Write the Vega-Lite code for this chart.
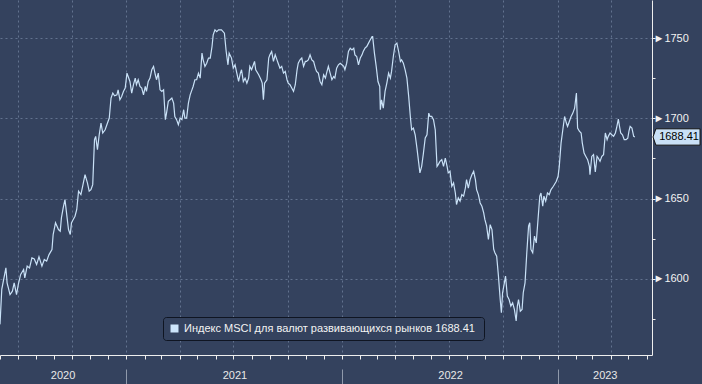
{
  "$schema": "https://vega.github.io/schema/vega-lite/v6.json",
  "width": 652,
  "height": 355,
  "autosize": {"type": "none"},
  "padding": {"left": 0, "top": 0, "right": 50, "bottom": 29},
  "background": "#34425e",
  "config": {
    "view": {"stroke": null, "fill": "#34425e"},
    "font": "Liberation Sans"
  },
  "datasets": {
    "series": [
      {"d":"2020-06-01","v":1571.6},{"d":"2020-06-04","v":1593.4},{"d":"2020-06-11","v":1606.8},{"d":"2020-06-13","v":1597.5},{"d":"2020-06-18","v":1590.2},{"d":"2020-06-22","v":1592.3},{"d":"2020-06-25","v":1597.5},{"d":"2020-06-29","v":1590.2},
      {"d":"2020-07-02","v":1596.5},{"d":"2020-07-06","v":1602.7},{"d":"2020-07-11","v":1605.8},{"d":"2020-07-13","v":1600.6},{"d":"2020-07-17","v":1607.9},{"d":"2020-07-21","v":1606.8},{"d":"2020-07-25","v":1613.1},{"d":"2020-07-29","v":1612.4},
      {"d":"2020-08-02","v":1608.9},{"d":"2020-08-06","v":1613.7},{"d":"2020-08-11","v":1607.9},{"d":"2020-08-15","v":1612},{"d":"2020-08-19","v":1611},{"d":"2020-08-23","v":1615.1},{"d":"2020-08-28","v":1618.3},{"d":"2020-08-30","v":1627.6},
      {"d":"2020-09-03","v":1634.9},{"d":"2020-09-08","v":1630.7},{"d":"2020-09-11","v":1629.7},{"d":"2020-09-13","v":1638},{"d":"2020-09-16","v":1644.2},{"d":"2020-09-19","v":1649.4},{"d":"2020-09-22","v":1640},{"d":"2020-09-25","v":1630.7},{"d":"2020-09-28","v":1627.6},{"d":"2020-09-30","v":1634.9},
      {"d":"2020-10-06","v":1639},{"d":"2020-10-09","v":1643.2},{"d":"2020-10-12","v":1654.6},{"d":"2020-10-16","v":1652.5},{"d":"2020-10-19","v":1657.7},{"d":"2020-10-23","v":1664.9},{"d":"2020-10-27","v":1659.8},{"d":"2020-10-30","v":1654.6},
      {"d":"2020-11-02","v":1655.6},{"d":"2020-11-05","v":1658.7},{"d":"2020-11-08","v":1686.7},{"d":"2020-11-10","v":1688.8},{"d":"2020-11-13","v":1680.5},{"d":"2020-11-16","v":1689.8},{"d":"2020-11-19","v":1697.1},{"d":"2020-11-22","v":1690.9},{"d":"2020-11-26","v":1692.9},{"d":"2020-11-30","v":1697.1},
      {"d":"2020-12-03","v":1700.2},{"d":"2020-12-06","v":1712.7},{"d":"2020-12-09","v":1715.8},{"d":"2020-12-12","v":1714.1},{"d":"2020-12-16","v":1714.7},{"d":"2020-12-18","v":1717.8},{"d":"2020-12-21","v":1711.6},{"d":"2020-12-24","v":1713.7},{"d":"2020-12-27","v":1716.8},{"d":"2020-12-30","v":1718.9},
      {"d":"2021-01-02","v":1728.2},{"d":"2021-01-04","v":1726.1},{"d":"2021-01-07","v":1723},{"d":"2021-01-10","v":1715.8},{"d":"2021-01-13","v":1721},{"d":"2021-01-16","v":1725.1},{"d":"2021-01-18","v":1721},{"d":"2021-01-21","v":1724.1},{"d":"2021-01-24","v":1719.9},{"d":"2021-01-27","v":1718.9},{"d":"2021-01-30","v":1714.7},
      {"d":"2021-02-02","v":1719.9},{"d":"2021-02-04","v":1716.8},{"d":"2021-02-07","v":1723},{"d":"2021-02-10","v":1725.1},{"d":"2021-02-13","v":1730.3},{"d":"2021-02-16","v":1732.4},{"d":"2021-02-19","v":1727.2},{"d":"2021-02-21","v":1724.1},{"d":"2021-02-24","v":1728.2},{"d":"2021-02-27","v":1717.8},
      {"d":"2021-03-02","v":1716.8},{"d":"2021-03-05","v":1717.8},{"d":"2021-03-08","v":1699.2},{"d":"2021-03-10","v":1703.3},{"d":"2021-03-13","v":1710.6},{"d":"2021-03-16","v":1711.6},{"d":"2021-03-19","v":1712.7},{"d":"2021-03-22","v":1709.5},{"d":"2021-03-24","v":1701.2},{"d":"2021-03-27","v":1699.2},{"d":"2021-03-30","v":1696.1},
      {"d":"2021-04-02","v":1700.2},{"d":"2021-04-05","v":1699.2},{"d":"2021-04-08","v":1705.4},{"d":"2021-04-10","v":1700.2},{"d":"2021-04-13","v":1700.2},{"d":"2021-04-16","v":1709.5},{"d":"2021-04-19","v":1714.7},{"d":"2021-04-22","v":1717.8},{"d":"2021-04-24","v":1719.9},{"d":"2021-04-27","v":1724.1},{"d":"2021-04-30","v":1724.1},
      {"d":"2021-05-03","v":1728.2},{"d":"2021-05-06","v":1725.1},{"d":"2021-05-09","v":1740.7},{"d":"2021-05-11","v":1736.5},{"d":"2021-05-14","v":1732.4},{"d":"2021-05-17","v":1734.4},{"d":"2021-05-20","v":1737.6},{"d":"2021-05-23","v":1737.6},{"d":"2021-05-26","v":1744.8},{"d":"2021-05-28","v":1752.1},{"d":"2021-05-31","v":1755.2},
      {"d":"2021-06-03","v":1754.1},{"d":"2021-06-06","v":1755.2},{"d":"2021-06-11","v":1755.2},{"d":"2021-06-16","v":1753.1},{"d":"2021-06-19","v":1741.7},{"d":"2021-06-22","v":1733.4},{"d":"2021-06-24","v":1740.7},{"d":"2021-06-28","v":1737.6},
      {"d":"2021-07-01","v":1731.3},{"d":"2021-07-04","v":1733.4},{"d":"2021-07-07","v":1728.2},{"d":"2021-07-10","v":1723},{"d":"2021-07-13","v":1728.2},{"d":"2021-07-15","v":1730.3},{"d":"2021-07-18","v":1723},{"d":"2021-07-21","v":1725.1},{"d":"2021-07-24","v":1722},{"d":"2021-07-27","v":1725.1},{"d":"2021-07-29","v":1732.4},
      {"d":"2021-08-01","v":1730.3},{"d":"2021-08-04","v":1733.4},{"d":"2021-08-06","v":1735.5},{"d":"2021-08-08","v":1730.3},{"d":"2021-08-13","v":1727.2},{"d":"2021-08-17","v":1724.1},{"d":"2021-08-19","v":1722},{"d":"2021-08-21","v":1711.6},{"d":"2021-08-23","v":1722},{"d":"2021-08-27","v":1724.1},{"d":"2021-08-30","v":1737.6},
      {"d":"2021-09-01","v":1739.6},{"d":"2021-09-04","v":1741.7},{"d":"2021-09-07","v":1735.5},{"d":"2021-09-10","v":1739.6},{"d":"2021-09-13","v":1736.5},{"d":"2021-09-15","v":1734.4},{"d":"2021-09-18","v":1731.3},{"d":"2021-09-21","v":1732.4},{"d":"2021-09-24","v":1728.2},{"d":"2021-09-27","v":1729.3},{"d":"2021-09-30","v":1724.1},
      {"d":"2021-10-02","v":1722},{"d":"2021-10-05","v":1721},{"d":"2021-10-08","v":1718.9},{"d":"2021-10-11","v":1716.8},{"d":"2021-10-14","v":1721},{"d":"2021-10-17","v":1730.3},{"d":"2021-10-19","v":1734.4},{"d":"2021-10-22","v":1736.5},{"d":"2021-10-25","v":1737.6},{"d":"2021-10-28","v":1732.4},{"d":"2021-10-31","v":1735.5},
      {"d":"2021-11-02","v":1735.5},{"d":"2021-11-05","v":1736.5},{"d":"2021-11-08","v":1739.6},{"d":"2021-11-11","v":1736.5},{"d":"2021-11-14","v":1735.5},{"d":"2021-11-17","v":1731.3},{"d":"2021-11-19","v":1729.3},{"d":"2021-11-22","v":1728.2},{"d":"2021-11-25","v":1723},{"d":"2021-11-28","v":1721},
      {"d":"2021-12-01","v":1727.2},{"d":"2021-12-04","v":1725.1},{"d":"2021-12-06","v":1728.2},{"d":"2021-12-09","v":1732.4},{"d":"2021-12-12","v":1728.2},{"d":"2021-12-15","v":1724.1},{"d":"2021-12-18","v":1726.1},{"d":"2021-12-20","v":1725.1},{"d":"2021-12-23","v":1731.3},{"d":"2021-12-26","v":1733.4},{"d":"2021-12-29","v":1734.4},
      {"d":"2022-01-01","v":1733.4},{"d":"2022-01-04","v":1732.4},{"d":"2022-01-06","v":1730.3},{"d":"2022-01-09","v":1734.4},{"d":"2022-01-12","v":1741.7},{"d":"2022-01-15","v":1743.8},{"d":"2022-01-18","v":1742.7},{"d":"2022-01-21","v":1743.8},{"d":"2022-01-23","v":1739.6},{"d":"2022-01-26","v":1738.6},{"d":"2022-01-29","v":1733.4},
      {"d":"2022-02-01","v":1737.6},{"d":"2022-02-04","v":1739.6},{"d":"2022-02-06","v":1741.7},{"d":"2022-02-09","v":1743.8},{"d":"2022-02-12","v":1744.8},{"d":"2022-02-15","v":1746.9},{"d":"2022-02-18","v":1749},{"d":"2022-02-21","v":1751},{"d":"2022-02-22","v":1751},{"d":"2022-02-25","v":1740.7},{"d":"2022-02-28","v":1732.4},
      {"d":"2022-03-03","v":1723},{"d":"2022-03-06","v":1719.9},{"d":"2022-03-07","v":1705.4},{"d":"2022-03-09","v":1711.6},{"d":"2022-03-12","v":1706.4},{"d":"2022-03-15","v":1716.8},{"d":"2022-03-18","v":1722},{"d":"2022-03-21","v":1728.2},{"d":"2022-03-24","v":1725.1},{"d":"2022-03-26","v":1729.3},{"d":"2022-03-29","v":1738.6},
      {"d":"2022-04-01","v":1745.9},{"d":"2022-04-04","v":1746.9},{"d":"2022-04-07","v":1741.7},{"d":"2022-04-10","v":1735.5},{"d":"2022-04-12","v":1736.5},{"d":"2022-04-15","v":1734.4},{"d":"2022-04-18","v":1730.3},{"d":"2022-04-21","v":1725.1},{"d":"2022-04-24","v":1713.7},{"d":"2022-04-27","v":1700.2},{"d":"2022-04-29","v":1692.9},
      {"d":"2022-05-02","v":1693.9},{"d":"2022-05-05","v":1689.8},{"d":"2022-05-08","v":1681.5},{"d":"2022-05-11","v":1672.2},{"d":"2022-05-13","v":1666},{"d":"2022-05-16","v":1670.1},{"d":"2022-05-19","v":1678.4},{"d":"2022-05-22","v":1687.8},{"d":"2022-05-25","v":1689.8},{"d":"2022-05-28","v":1703.3},{"d":"2022-05-30","v":1701.2},
      {"d":"2022-06-02","v":1701.2},{"d":"2022-06-05","v":1699.2},{"d":"2022-06-08","v":1692.9},{"d":"2022-06-11","v":1670.1},{"d":"2022-06-13","v":1671.2},{"d":"2022-06-16","v":1673.2},{"d":"2022-06-19","v":1674.3},{"d":"2022-06-22","v":1670.1},{"d":"2022-06-25","v":1675.3},{"d":"2022-06-28","v":1670.1},{"d":"2022-06-30","v":1666},
      {"d":"2022-07-03","v":1667},{"d":"2022-07-06","v":1657.7},{"d":"2022-07-09","v":1659.8},{"d":"2022-07-12","v":1653.5},{"d":"2022-07-14","v":1646.3},{"d":"2022-07-17","v":1650.4},{"d":"2022-07-20","v":1648.4},{"d":"2022-07-23","v":1652.5},{"d":"2022-07-26","v":1651.5},{"d":"2022-07-29","v":1656.6},{"d":"2022-07-31","v":1661.8},
      {"d":"2022-08-03","v":1656.6},{"d":"2022-08-06","v":1661.8},{"d":"2022-08-09","v":1664.9},{"d":"2022-08-12","v":1667},{"d":"2022-08-15","v":1661.8},{"d":"2022-08-17","v":1655.6},{"d":"2022-08-20","v":1652.5},{"d":"2022-08-23","v":1647.3},{"d":"2022-08-26","v":1645.2},{"d":"2022-08-29","v":1641.1},{"d":"2022-08-31","v":1637},
      {"d":"2022-09-03","v":1632.8},{"d":"2022-09-06","v":1624.5},{"d":"2022-09-09","v":1633.8},{"d":"2022-09-12","v":1630.7},{"d":"2022-09-15","v":1618.3},{"d":"2022-09-17","v":1616.2},{"d":"2022-09-20","v":1614.1},{"d":"2022-09-23","v":1601.7},{"d":"2022-09-26","v":1587.1},{"d":"2022-09-28","v":1578.8},{"d":"2022-09-30","v":1591.3},
      {"d":"2022-10-03","v":1597.5},{"d":"2022-10-05","v":1601.7},{"d":"2022-10-08","v":1589.2},{"d":"2022-10-11","v":1587.1},{"d":"2022-10-14","v":1583},{"d":"2022-10-17","v":1585},{"d":"2022-10-20","v":1580.9},{"d":"2022-10-23","v":1573.7},{"d":"2022-10-25","v":1583},{"d":"2022-10-27","v":1587.1},{"d":"2022-10-30","v":1579.8},
      {"d":"2022-11-02","v":1580.9},{"d":"2022-11-04","v":1591.3},{"d":"2022-11-07","v":1597.5},{"d":"2022-11-10","v":1616.2},{"d":"2022-11-13","v":1632.8},{"d":"2022-11-15","v":1634.9},{"d":"2022-11-17","v":1618.3},{"d":"2022-11-20","v":1616.2},{"d":"2022-11-23","v":1626.6},{"d":"2022-11-26","v":1622.4},{"d":"2022-11-29","v":1637},
      {"d":"2022-12-02","v":1651.5},{"d":"2022-12-04","v":1653.5},{"d":"2022-12-07","v":1645.2},{"d":"2022-12-09","v":1651.5},{"d":"2022-12-12","v":1648.4},{"d":"2022-12-15","v":1653.5},{"d":"2022-12-18","v":1652.5},{"d":"2022-12-21","v":1655.6},{"d":"2022-12-25","v":1657.7},{"d":"2022-12-30","v":1660.8},
      {"d":"2023-01-02","v":1663.9},{"d":"2023-01-04","v":1670.1},{"d":"2023-01-07","v":1684.6},{"d":"2023-01-10","v":1692.9},{"d":"2023-01-13","v":1701.2},{"d":"2023-01-16","v":1697.1},{"d":"2023-01-18","v":1695},{"d":"2023-01-21","v":1698.1},{"d":"2023-01-24","v":1701.2},{"d":"2023-01-27","v":1703.3},{"d":"2023-01-30","v":1706.4},{"d":"2023-01-31","v":1709.5},
      {"d":"2023-02-02","v":1715.8},{"d":"2023-02-04","v":1694},{"d":"2023-02-07","v":1692},{"d":"2023-02-10","v":1690.9},{"d":"2023-02-12","v":1684.6},{"d":"2023-02-15","v":1678.4},{"d":"2023-02-18","v":1676.3},{"d":"2023-02-21","v":1674.3},{"d":"2023-02-24","v":1670.1},{"d":"2023-02-25","v":1664.9},{"d":"2023-02-28","v":1676.3},
      {"d":"2023-03-03","v":1677.4},{"d":"2023-03-06","v":1666.6},{"d":"2023-03-09","v":1676.3},{"d":"2023-03-11","v":1675.3},{"d":"2023-03-14","v":1673.2},{"d":"2023-03-17","v":1676.3},{"d":"2023-03-20","v":1677.4},{"d":"2023-03-23","v":1690.9},{"d":"2023-03-26","v":1686.7},{"d":"2023-03-28","v":1688.8},{"d":"2023-03-31","v":1690.9},
      {"d":"2023-04-03","v":1689.8},{"d":"2023-04-06","v":1688.8},{"d":"2023-04-09","v":1690.9},{"d":"2023-04-11","v":1694},{"d":"2023-04-14","v":1699.6},{"d":"2023-04-16","v":1695},{"d":"2023-04-18","v":1690.9},{"d":"2023-04-21","v":1689.8},{"d":"2023-04-24","v":1686.7},{"d":"2023-04-27","v":1686.7},{"d":"2023-04-30","v":1687.7},
      {"d":"2023-05-02","v":1692},{"d":"2023-05-04","v":1695},{"d":"2023-05-07","v":1694},{"d":"2023-05-10","v":1688.8},{"d":"2023-05-12","v":1688.41}
    ]
  },
  "data": {"name": "series"},
  "resolve": {"axis": {"x": "independent", "y": "independent"}},
  "layer": [
    {
      "mark": {"type": "line", "strokeWidth": 1.2, "interpolate": "linear"},
      "encoding": {
        "x": {
          "field": "d", "type": "temporal",
          "scale": {"domain": [{"year": 2020, "month": 6, "date": 1}, {"year": 2023, "month": 6, "date": 10}]},
          "axis": {
            "orient": "bottom", "title": null, "labels": false,
            "tickCount": {"interval": "month", "step": 1},
            "domainColor": "#eeeeee", "tickColor": "#eeeeee", "tickSize": 4,
            "grid": true, "gridColor": "#62728f", "gridDash": [2, 3],
            "gridOpacity": {"condition": {"test": "month(datum.value) % 3 === 0", "value": 1}, "value": 0}
          }
        },
        "y": {
          "field": "v", "type": "quantitative",
          "scale": {"domain": [1552.5, 1773.8], "nice": false, "zero": false},
          "axis": {
            "orient": "right", "title": null, "format": "d",
            "values": [1575, 1600, 1625, 1650, 1675, 1700, 1725, 1750],
            "domainColor": "#eeeeee", "tickColor": "#eeeeee", "tickSize": 3,
            "grid": true, "gridColor": "#62728f", "gridDash": [2, 3],
            "gridOpacity": {"condition": {"test": "datum.value % 50 === 0", "value": 1}, "value": 0},
            "labelExpr": "datum.value % 50 === 0 ? '►' + datum.label : ''",
            "labelPadding": -2, "labelColor": "#f2f2f2", "labelFont": "Liberation Sans", "labelFontSize": 11,
            "labelBaseline": "middle"
          }
        },
        "color": {
          "datum": "Индекс MSCI для валют развивающихся рынков  1688.41",
          "type": "nominal",
          "scale": {"range": ["#c9e1f7"]},
          "legend": {
            "orient": "none", "legendX": 163, "legendY": 317, "title": null,
            "symbolType": "square", "symbolSize": 64, "symbolStrokeWidth": 0,
            "labelFont": "Liberation Sans", "labelFontSize": 11, "labelColor": "#f2f2f2", "labelLimit": 500,
            "fillColor": "#34425e", "strokeColor": "#0f1522", "cornerRadius": 3, "padding": 6,
            "encode": {"symbols": {"update": {"fill": {"value": "#cde5fb"}, "stroke": {"value": "#cde5fb"}, "opacity": {"value": 1}}}}
          }
        }
      }
    },
    {
      "transform": [{"filter": "datum.v === 1688.41"}],
      "mark": {
        "type": "point", "filled": true, "fill": "#c9e0f6", "stroke": "#111111", "strokeWidth": 1, "opacity": 1,
        "shape": "M-1,0L-0.88,-0.34L0.96,-0.34L0.96,0.34L-0.88,0.34Z", "size": 2304, "xOffset": 25
      },
      "encoding": {
        "x": {
          "datum": {"year": 2023, "month": 6, "date": 10}, "type": "temporal",
          "scale": {"domain": [{"year": 2020, "month": 6, "date": 1}, {"year": 2023, "month": 6, "date": 10}]},
          "axis": {
            "orient": "bottom", "title": null, "labels": false, "domain": false, "grid": false,
            "tickCount": {"interval": "year", "step": 1},
            "tickColor": "#8f99ab", "tickSize": 15, "offset": 14
          }
        },
        "y": {"field": "v", "type": "quantitative", "scale": {"domain": [1552.5, 1773.8], "nice": false, "zero": false}, "axis": null}
      }
    },
    {
      "transform": [{"filter": "datum.v === 1688.41"}],
      "mark": {"type": "text", "font": "Liberation Sans", "fontSize": 11, "color": "#000000", "align": "center", "baseline": "middle", "xOffset": 27},
      "encoding": {
        "x": {
          "datum": {"year": 2023, "month": 6, "date": 10}, "type": "temporal",
          "scale": {"domain": [{"year": 2020, "month": 6, "date": 1}, {"year": 2023, "month": 6, "date": 10}]},
          "axis": {
            "orient": "bottom", "title": null, "domain": false, "grid": false, "ticks": false,
            "values": [{"year": 2020, "month": 9, "date": 15}, {"year": 2021, "month": 7, "date": 3}, {"year": 2022, "month": 7, "date": 3}, {"year": 2023, "month": 3, "date": 22}],
            "labelExpr": "timeFormat(datum.value, '%Y')",
            "labelPadding": 20, "labelBaseline": "middle", "labelColor": "#e8e8e8", "labelFont": "Liberation Sans", "labelFontSize": 11
          }
        },
        "y": {"field": "v", "type": "quantitative", "scale": {"domain": [1552.5, 1773.8], "nice": false, "zero": false}, "axis": null},
        "text": {"field": "v", "type": "quantitative", "format": ".2f"}
      }
    }
  ]
}
